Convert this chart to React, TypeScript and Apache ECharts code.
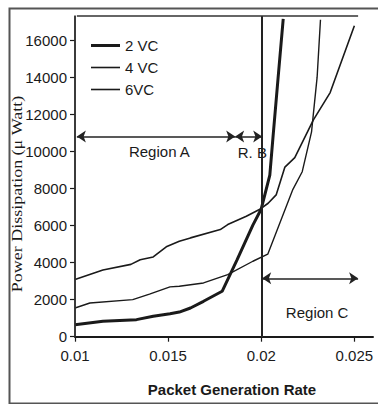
import React, { useEffect, useRef } from 'react';
import * as echarts from 'echarts';

// Tick labels
const xTicks = [0.01, 0.015, 0.02, 0.025];
const yTicks = [0, 2000, 4000, 6000, 8000, 10000, 12000, 14000, 16000];

// Series: [packet generation rate, power dissipation (uW)]
const vc2: number[][] = [
  [0.0100, 650], [0.0115, 830], [0.0133, 920], [0.0142, 1100], [0.0151, 1240],
  [0.0156, 1330], [0.0162, 1550], [0.0169, 1910], [0.0179, 2450], [0.0187, 4140],
  [0.01955, 6020], [0.0200, 6890], [0.02046, 8720], [0.02064, 10880], [0.02091, 14030],
  [0.02118, 17140],
];
const vc4: number[][] = [
  [0.0100, 1550], [0.0108, 1820], [0.0131, 2000], [0.0140, 2300], [0.0151, 2690],
  [0.0156, 2720], [0.0169, 2900], [0.0182, 3350], [0.01955, 4070], [0.02035, 4450],
  [0.0217, 7950], [0.0222, 8900], [0.0227, 11050], [0.0230, 14000], [0.02318, 17100],
];
const vc6: number[][] = [
  [0.0100, 3080], [0.0115, 3600], [0.0130, 3900], [0.0135, 4150], [0.0142, 4300],
  [0.0149, 4850], [0.0156, 5150], [0.0162, 5330], [0.0178, 5780], [0.0182, 6050],
  [0.0192, 6500], [0.0199, 6860], [0.02037, 7200], [0.0208, 7650], [0.02127, 9150],
  [0.0218, 9660], [0.0228, 11700], [0.0237, 13170], [0.0250, 16770],
];

const seriesNames = ['2 VC', '4 VC', '6VC'];
const seriesWidths = [3, 1.4, 1.6];

// Region annotations
const frameLeft = 0.0101;
const regionB = 0.0186;
const regionC = 0.02005;
const frameRight = 0.0252;
const arrowAB = 10800;
const arrowC = 3150;
const regionLabels = [
  { text: 'Region A', x: 0.01453, y: 10000 },
  { text: 'R. B', x: 0.01952, y: 9960 },
  { text: 'Region C', x: 0.0230, y: 1300 },
];

const Y_MAX = 17300;
const FONT = "'Liberation Sans', Arial, sans-serif";

// legend icon: horizontal bar of given thickness inside a 29x14 box
const barIcon = (w: number) => {
  const a = 7 - w / 2;
  const b = 7 + w / 2;
  return `path://M0 0 M29 14 M0 ${a} L29 ${a} L29 ${b} L0 ${b} Z`;
};

export default function App() {
  const ref = useRef<HTMLDivElement>(null);
  useEffect(() => {
    document.body.style.margin = '0';
    const chart = echarts.init(ref.current!, undefined, { renderer: 'svg' });
    const ink = '#1a1a1a';
    const solid = (color: string, width: number) => ({ color, width, type: 'solid' });
    chart.setOption({
      animation: false,
      backgroundColor: '#fff',
      grid: { left: 75, right: 5, top: 16, bottom: 67.3, containLabel: false, outerBoundsMode: 'none' },
      legend: {
        data: seriesNames.map((n, i) => ({ name: n, icon: barIcon(seriesWidths[i] === 3 ? 3 : 1.6) })),
        orient: 'vertical',
        left: 86,
        top: 33,
        itemWidth: 29,
        itemHeight: 14,
        itemGap: 7,
        symbolKeepAspect: false,
        itemStyle: { color: ink, borderWidth: 0 },
        textStyle: { fontFamily: FONT, fontSize: 15, color: ink },
      },
      xAxis: {
        type: 'value',
        min: 0.01,
        max: 0.026,
        interval: 0.005,
        splitLine: { show: false },
        axisLine: { show: true, onZero: false, lineStyle: { color: ink, width: 2 } },
        axisTick: { show: true, length: 5, customValues: xTicks, lineStyle: { color: ink, width: 1.2 } },
        axisLabel: {
          customValues: xTicks,
          formatter: (v: number) => String(+v.toFixed(3)),
          fontFamily: FONT, fontSize: 15, color: ink, margin: 11,
        },
      },
      yAxis: {
        type: 'value',
        min: 0,
        max: Y_MAX,
        interval: 2000,
        splitLine: { show: false },
        axisLine: { show: true, lineStyle: { color: ink, width: 1.5 } },
        axisTick: { show: true, length: 5, customValues: yTicks, lineStyle: { color: ink, width: 1.2 } },
        axisLabel: {
          customValues: yTicks,
          formatter: (v: number) => String(v),
          fontFamily: FONT, fontSize: 15, color: ink, margin: 8,
        },
      },
      series: [
        { name: seriesNames[0], type: 'line', data: vc2, symbol: 'none', lineStyle: { color: ink, width: seriesWidths[0] }, itemStyle: { color: ink } },
        { name: seriesNames[1], type: 'line', data: vc4, symbol: 'none', lineStyle: { color: ink, width: seriesWidths[1] }, itemStyle: { color: ink } },
        { name: seriesNames[2], type: 'line', data: vc6, symbol: 'none', lineStyle: { color: ink, width: seriesWidths[2] }, itemStyle: { color: ink } },
        {
          name: 'annotations',
          type: 'line',
          data: [],
          silent: true,
          markLine: {
            silent: true,
            symbol: 'none',
            symbolSize: [9, 9],
            label: { show: false },
            emphasis: { disabled: true },
            data: [
              { xAxis: frameLeft, lineStyle: solid('#333', 1.5) },
              { xAxis: regionB, lineStyle: solid('#555', 1.5) },
              { xAxis: regionC, lineStyle: solid('#222', 2) },
              { xAxis: frameRight, lineStyle: solid('#222', 2) },
              [
                { coord: [frameLeft, Y_MAX], lineStyle: solid('#333', 1.5) },
                { coord: [frameRight, Y_MAX] },
              ],
              [
                { coord: [frameLeft, arrowAB], symbol: 'arrow', lineStyle: solid('#222', 1.5) },
                { coord: [regionB, arrowAB], symbol: 'arrow' },
              ],
              [
                { coord: [regionB, arrowAB], symbol: 'arrow', lineStyle: solid('#222', 1.5) },
                { coord: [regionC, arrowAB], symbol: 'arrow' },
              ],
              [
                { coord: [regionC, arrowC], symbol: 'arrow', lineStyle: solid('#222', 1.5) },
                { coord: [frameRight, arrowC], symbol: 'arrow' },
              ],
            ],
          },
          markPoint: {
            silent: true,
            symbol: 'circle',
            symbolSize: 0,
            itemStyle: { color: 'transparent' },
            label: { show: true, position: 'inside', fontFamily: FONT, fontSize: 15, color: ink },
            data: regionLabels.map((r) => ({ coord: [r.x, r.y], label: { formatter: r.text } })),
          },
        },
      ],
      graphic: [
        {
          type: 'rect',
          left: 7, top: 6, silent: true,
          shape: { width: 400, height: 395 },
          style: { fill: 'none', stroke: '#555', lineWidth: 2 },
        },
        {
          type: 'text',
          x: 17, y: 194, rotation: Math.PI / 2, scaleX: 1.2,
          silent: true,
          style: {
            text: 'Power Dissipation (μ Watt)',
            font: "15px 'Liberation Serif', 'Times New Roman', serif",
            fill: ink, align: 'center', verticalAlign: 'middle',
          },
        },
        {
          type: 'text',
          x: 232, y: 389, silent: true,
          style: {
            text: 'Packet Generation Rate',
            font: "bold 15px 'Liberation Sans', Arial, sans-serif",
            fill: ink, align: 'center', verticalAlign: 'middle',
          },
        },
      ],
    });
    return () => chart.dispose();
  }, []);
  return <div ref={ref} style={{ width: 378, height: 404 }} />;
}
